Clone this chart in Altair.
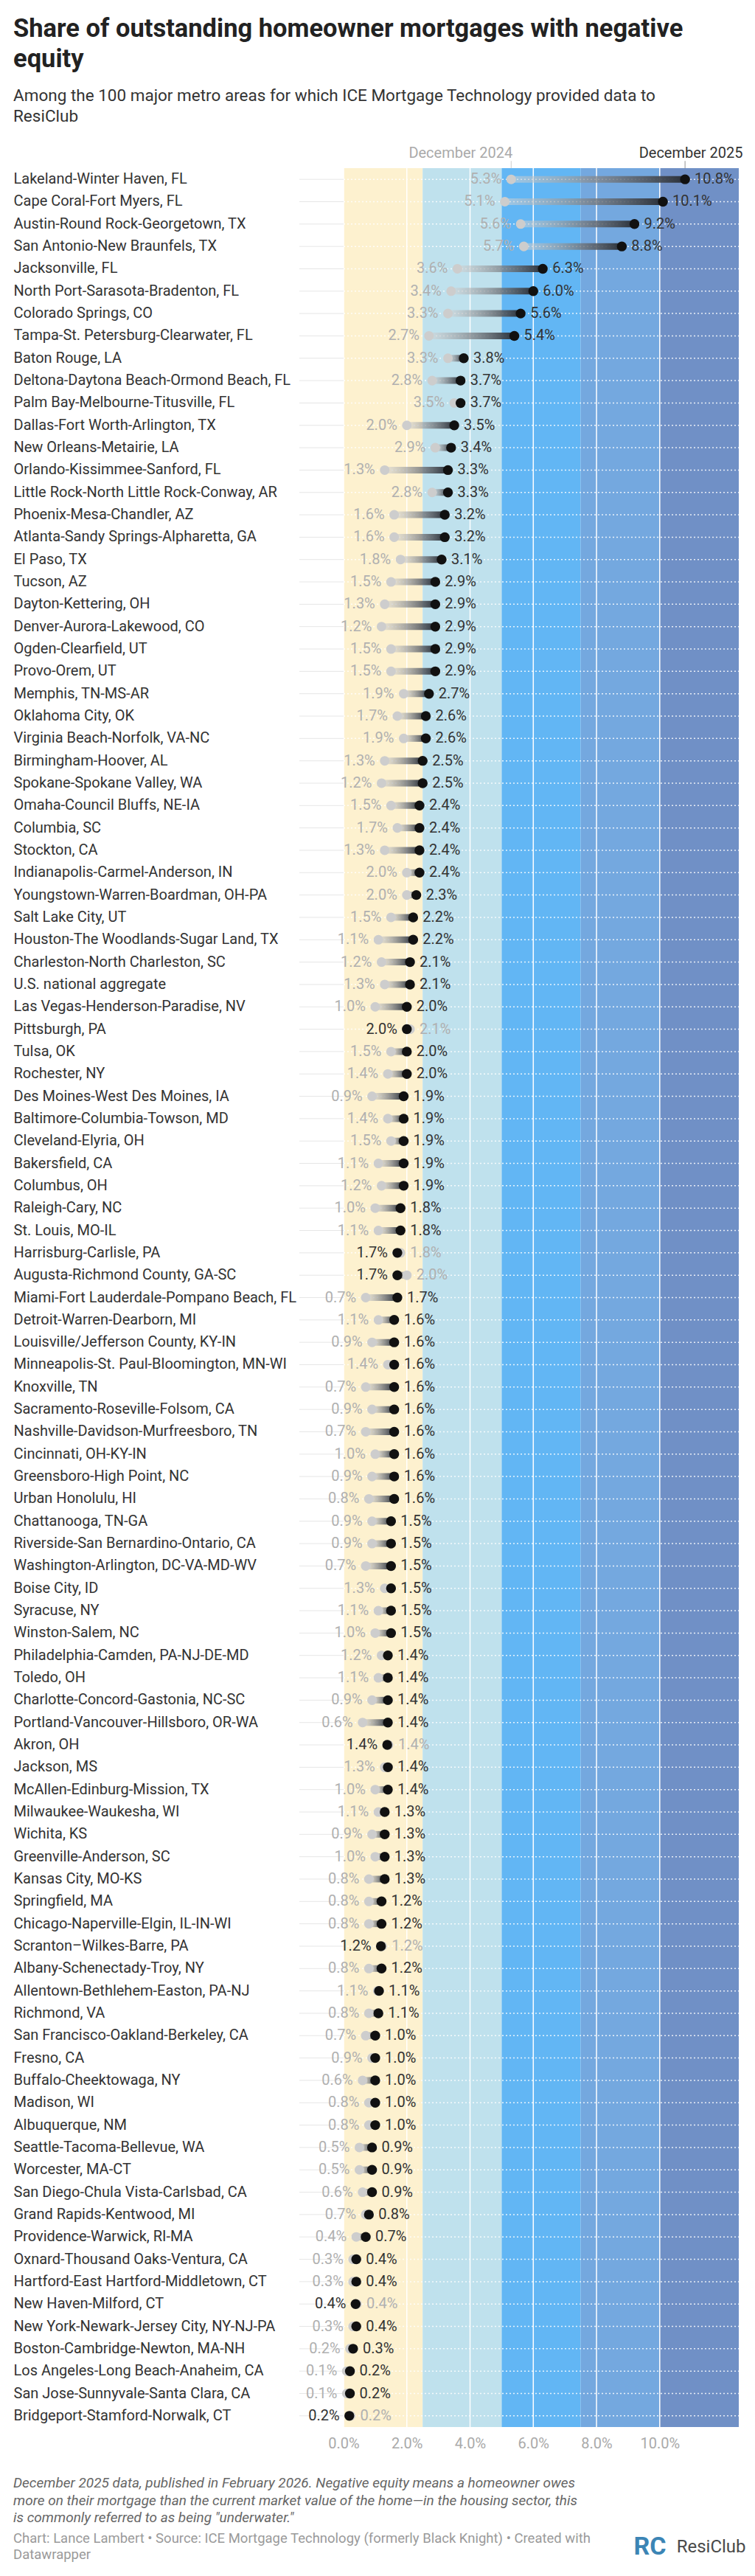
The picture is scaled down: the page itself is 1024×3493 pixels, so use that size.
import altair as alt
import pandas as pd

# ---------------- data ----------------
METROS = [
    "Lakeland-Winter Haven, FL", "Cape Coral-Fort Myers, FL", "Austin-Round Rock-Georgetown, TX",
    "San Antonio-New Braunfels, TX", "Jacksonville, FL", "North Port-Sarasota-Bradenton, FL",
    "Colorado Springs, CO", "Tampa-St. Petersburg-Clearwater, FL", "Baton Rouge, LA",
    "Deltona-Daytona Beach-Ormond Beach, FL", "Palm Bay-Melbourne-Titusville, FL",
    "Dallas-Fort Worth-Arlington, TX", "New Orleans-Metairie, LA", "Orlando-Kissimmee-Sanford, FL",
    "Little Rock-North Little Rock-Conway, AR", "Phoenix-Mesa-Chandler, AZ",
    "Atlanta-Sandy Springs-Alpharetta, GA", "El Paso, TX", "Tucson, AZ", "Dayton-Kettering, OH",
    "Denver-Aurora-Lakewood, CO", "Ogden-Clearfield, UT", "Provo-Orem, UT", "Memphis, TN-MS-AR",
    "Oklahoma City, OK", "Virginia Beach-Norfolk, VA-NC", "Birmingham-Hoover, AL",
    "Spokane-Spokane Valley, WA", "Omaha-Council Bluffs, NE-IA", "Columbia, SC", "Stockton, CA",
    "Indianapolis-Carmel-Anderson, IN", "Youngstown-Warren-Boardman, OH-PA", "Salt Lake City, UT",
    "Houston-The Woodlands-Sugar Land, TX", "Charleston-North Charleston, SC",
    "U.S. national aggregate", "Las Vegas-Henderson-Paradise, NV", "Pittsburgh, PA", "Tulsa, OK",
    "Rochester, NY", "Des Moines-West Des Moines, IA", "Baltimore-Columbia-Towson, MD",
    "Cleveland-Elyria, OH", "Bakersfield, CA", "Columbus, OH", "Raleigh-Cary, NC",
    "St. Louis, MO-IL", "Harrisburg-Carlisle, PA", "Augusta-Richmond County, GA-SC",
    "Miami-Fort Lauderdale-Pompano Beach, FL", "Detroit-Warren-Dearborn, MI",
    "Louisville/Jefferson County, KY-IN", "Minneapolis-St. Paul-Bloomington, MN-WI",
    "Knoxville, TN", "Sacramento-Roseville-Folsom, CA", "Nashville-Davidson-Murfreesboro, TN",
    "Cincinnati, OH-KY-IN", "Greensboro-High Point, NC", "Urban Honolulu, HI",
    "Chattanooga, TN-GA", "Riverside-San Bernardino-Ontario, CA",
    "Washington-Arlington, DC-VA-MD-WV", "Boise City, ID", "Syracuse, NY", "Winston-Salem, NC",
    "Philadelphia-Camden, PA-NJ-DE-MD", "Toledo, OH", "Charlotte-Concord-Gastonia, NC-SC",
    "Portland-Vancouver-Hillsboro, OR-WA", "Akron, OH", "Jackson, MS",
    "McAllen-Edinburg-Mission, TX", "Milwaukee-Waukesha, WI", "Wichita, KS",
    "Greenville-Anderson, SC", "Kansas City, MO-KS", "Springfield, MA",
    "Chicago-Naperville-Elgin, IL-IN-WI", "Scranton\u2013Wilkes-Barre, PA",
    "Albany-Schenectady-Troy, NY", "Allentown-Bethlehem-Easton, PA-NJ", "Richmond, VA",
    "San Francisco-Oakland-Berkeley, CA", "Fresno, CA", "Buffalo-Cheektowaga, NY", "Madison, WI",
    "Albuquerque, NM", "Seattle-Tacoma-Bellevue, WA", "Worcester, MA-CT",
    "San Diego-Chula Vista-Carlsbad, CA", "Grand Rapids-Kentwood, MI", "Providence-Warwick, RI-MA",
    "Oxnard-Thousand Oaks-Ventura, CA", "Hartford-East Hartford-Middletown, CT",
    "New Haven-Milford, CT", "New York-Newark-Jersey City, NY-NJ-PA",
    "Boston-Cambridge-Newton, MA-NH", "Los Angeles-Long Beach-Anaheim, CA",
    "San Jose-Sunnyvale-Santa Clara, CA", "Bridgeport-Stamford-Norwalk, CT",
]

DEC_2024 = [
    5.3, 5.1, 5.6, 5.7, 3.6, 3.4, 3.3, 2.7, 3.3, 2.8,
    3.5, 2.0, 2.9, 1.3, 2.8, 1.6, 1.6, 1.8, 1.5, 1.3,
    1.2, 1.5, 1.5, 1.9, 1.7, 1.9, 1.3, 1.2, 1.5, 1.7,
    1.3, 2.0, 2.0, 1.5, 1.1, 1.2, 1.3, 1.0, 2.1, 1.5,
    1.4, 0.9, 1.4, 1.5, 1.1, 1.2, 1.0, 1.1, 1.8, 2.0,
    0.7, 1.1, 0.9, 1.4, 0.7, 0.9, 0.7, 1.0, 0.9, 0.8,
    0.9, 0.9, 0.7, 1.3, 1.1, 1.0, 1.2, 1.1, 0.9, 0.6,
    1.42, 1.3, 1.0, 1.1, 0.9, 1.0, 0.8, 0.8, 0.8, 1.22,
    0.8, 1.08, 0.8, 0.7, 0.9, 0.6, 0.8, 0.8, 0.5, 0.5,
    0.6, 0.7, 0.4, 0.3, 0.3, 0.42, 0.3, 0.2, 0.1, 0.1,
    0.22,
]

DEC_2025 = [
    10.8, 10.1, 9.2, 8.8, 6.3, 6.0, 5.6, 5.4, 3.8, 3.7,
    3.7, 3.5, 3.4, 3.3, 3.3, 3.2, 3.2, 3.1, 2.9, 2.9,
    2.9, 2.9, 2.9, 2.7, 2.6, 2.6, 2.5, 2.5, 2.4, 2.4,
    2.4, 2.4, 2.3, 2.2, 2.2, 2.1, 2.1, 2.0, 2.0, 2.0,
    2.0, 1.9, 1.9, 1.9, 1.9, 1.9, 1.8, 1.8, 1.7, 1.7,
    1.7, 1.6, 1.6, 1.6, 1.6, 1.6, 1.6, 1.6, 1.6, 1.6,
    1.5, 1.5, 1.5, 1.5, 1.5, 1.5, 1.4, 1.4, 1.4, 1.4,
    1.38, 1.4, 1.4, 1.3, 1.3, 1.3, 1.3, 1.2, 1.2, 1.18,
    1.2, 1.12, 1.1, 1.0, 1.0, 1.0, 1.0, 1.0, 0.9, 0.9,
    0.9, 0.8, 0.7, 0.4, 0.4, 0.38, 0.4, 0.3, 0.2, 0.2,
    0.18,
]

BAND_START = [0, 2.5, 5, 7.5, 10]
BAND_END = [2.5, 5, 7.5, 10, 12.5]
BAND_COLORS = ["#fdf1cf", "#bfe1ed", "#62b6f4", "#74a8df", "#7090c6"]
TICKS = [0, 2, 4, 6, 8, 10]
X_MIN, X_MAX = -1.4, 12.5

TITLE_LINES = ["Share of outstanding homeowner mortgages with negative", "equity"]
SUBTITLE_LINES = ["Among the 100 major metro areas for which ICE Mortgage Technology provided data to",
                  "ResiClub"]
NOTE_LINES = ["December 2025 data, published in February 2026. Negative equity means a homeowner owes",
              "more on their mortgage than the current market value of the home\u2014in the housing sector, this",
              "is commonly referred to as being \"underwater.\""]
CREDIT_LINES = ["Chart: Lance Lambert \u2022 Source: ICE Mortgage Technology (formerly Black Knight) \u2022 Created with",
                "Datawrapper"]
HEAD_2024 = "December 2024"
HEAD_2025 = "December 2025"

# ---------------- chart ----------------
FONT = "Roboto"
W, H = 596, 3063

df = pd.DataFrame({"metro": METROS, "v24": DEC_2024, "v25": DEC_2025,
                   "order": list(range(len(METROS)))})
bands = pd.DataFrame({"start": BAND_START, "end": BAND_END, "color": BAND_COLORS})
ticks = pd.DataFrame({"t": TICKS})

xscale = alt.Scale(domain=[X_MIN, X_MAX], nice=False, zero=False)
xaxis = alt.Axis(values=TICKS, labelExpr="format(datum.value, '.1f') + '%'", title=None,
                 ticks=False, tickSize=0, domain=False, grid=False, labelFont=FONT,
                 labelFontSize=20, labelColor="#aaaaaa", labelPadding=12, labelFlush=False)
yscale = alt.Scale(paddingInner=0, paddingOuter=0)
yaxis = alt.Axis(title=None, ticks=False, tickSize=0, domain=False, grid=False,
                 labelAlign="left", labelBaseline="middle", labelPadding=388, labelLimit=600,
                 labelFont=FONT, labelFontSize=20, labelColor="#333333")


def X(field):
    return alt.X(f"{field}:Q", scale=xscale, axis=xaxis)


Y = alt.Y("metro:N", sort=METROS, scale=yscale, axis=yaxis)

GRAD_UP = alt.Gradient(gradient="linear",
                       stops=[alt.GradientStop(offset=0, color="rgba(215,215,215,0.5)"),
                              alt.GradientStop(offset=1, color="#2a3039")],
                       x1=0, x2=1, y1=0, y2=0)
GRAD_DOWN = alt.Gradient(gradient="linear",
                         stops=[alt.GradientStop(offset=0, color="#2a3039"),
                                alt.GradientStop(offset=1, color="rgba(215,215,215,0.5)")],
                         x1=0, x2=1, y1=0, y2=0)

band_layer = alt.Chart(bands).mark_rect().encode(
    x=X("start"), x2="end", color=alt.Color("color:N", scale=None))
grid_layer = alt.Chart(ticks).mark_rule(color="white", strokeWidth=1.5).encode(x=X("t"))

base = alt.Chart(df).transform_calculate(
    l24="format(datum.v24, '.1f') + '%'",
    l25="format(datum.v25, '.1f') + '%'",
    lo=f"{X_MIN}", z="0", hi=f"{X_MAX}",
)
UP = "datum.v25 >= datum.v24"
DOWN = "datum.v25 < datum.v24"

row_left = base.mark_rule(color="#e6e6e6", strokeWidth=1).encode(x=X("lo"), x2="z", y=Y)
row_right = base.mark_rule(color="white", strokeWidth=1.5, strokeDash=[2, 3], opacity=0.85).encode(
    x=X("z"), x2="hi", y=Y)

bars_up = base.transform_filter(UP).mark_bar(size=9, color=GRAD_UP).encode(x=X("v24"), x2="v25", y=Y)
bars_down = base.transform_filter(DOWN).mark_bar(size=9, color=GRAD_DOWN).encode(x=X("v24"), x2="v25", y=Y)

dots24 = base.mark_circle(size=170, color="#cdcdcd", opacity=1).encode(x=X("v24"), y=Y)
dots25 = base.mark_circle(size=180, color="#111111", opacity=1).encode(x=X("v25"), y=Y)

TK = dict(font=FONT, fontSize=20, baseline="middle")
t24_up = base.transform_filter(UP).mark_text(align="right", dx=-13, color="#b0b0b0", **TK).encode(
    x=X("v24"), y=Y, text="l24:N")
t25_up = base.transform_filter(UP).mark_text(align="left", dx=13, color="#333333", **TK).encode(
    x=X("v25"), y=Y, text="l25:N")
t25_down = base.transform_filter(DOWN).mark_text(align="right", dx=-13, color="#333333", **TK).encode(
    x=X("v25"), y=Y, text="l25:N")
t24_down = base.transform_filter(DOWN).mark_text(align="left", dx=13, color="#b0b0b0", **TK).encode(
    x=X("v24"), y=Y, text="l24:N")

head = base.transform_filter("datum.order == 0")
htick24 = head.mark_tick(size=10, thickness=1, yOffset=-20, color="#bbbbbb").encode(x=X("v24"), y=Y)
htick25 = head.mark_tick(size=10, thickness=1, yOffset=-20, color="#666666").encode(x=X("v25"), y=Y)
h24 = head.mark_text(align="right", dx=2, dy=-35, color="#aaaaaa", **TK).encode(
    x=X("v24"), y=Y, text=alt.value(HEAD_2024))
h25 = head.mark_text(align="center", dx=8, dy=-35, color="#333333", **TK).encode(
    x=X("v25"), y=Y, text=alt.value(HEAD_2025))

main = alt.layer(
    band_layer, grid_layer, row_left, row_right, bars_up, bars_down, dots24, dots25,
    t24_up, t25_up, t25_down, t24_down, htick24, htick25, h24, h25,
).properties(
    width=W, height=H,
    title=alt.TitleParams(
        text=TITLE_LINES, subtitle=SUBTITLE_LINES, anchor="start", orient="top",
        font=FONT, fontSize=34.5, fontWeight="bold", color="#222222", lineHeight=41,
        subtitleFont=FONT, subtitleFontSize=22.5, subtitleColor="#333333",
        subtitleLineHeight=28, subtitlePadding=20, offset=28,
    ),
)

notes = alt.vconcat(main).properties(
    title=alt.TitleParams(
        text=NOTE_LINES, subtitle=CREDIT_LINES, orient="bottom", anchor="start",
        font=FONT, fontSize=19, fontStyle="italic", fontWeight="normal", color="#666666",
        lineHeight=23.5, subtitleFont=FONT, subtitleFontSize=18.5, subtitleColor="#9a9a9a",
        subtitleLineHeight=22, subtitlePadding=9, offset=35,
    )
)

logo_a = alt.vconcat(notes).properties(
    title=alt.TitleParams(text="ResiClub", orient="bottom", anchor="end", font=FONT,
                          fontSize=24, fontWeight="normal", color="#4a4a4a", offset=-32, dx=4)
)

chart = alt.vconcat(logo_a).properties(
    title=alt.TitleParams(text="RC", orient="bottom", anchor="end", font=FONT, fontSize=34,
                          fontWeight="bold", color="#3c85b5", offset=-37, dx=-108),
    padding={"left": 10, "top": 14, "right": 4, "bottom": 10},
).configure_view(stroke=None).configure_concat(spacing=0)

chart.save("out.html", embed_options={"renderer": "svg", "actions": False})
